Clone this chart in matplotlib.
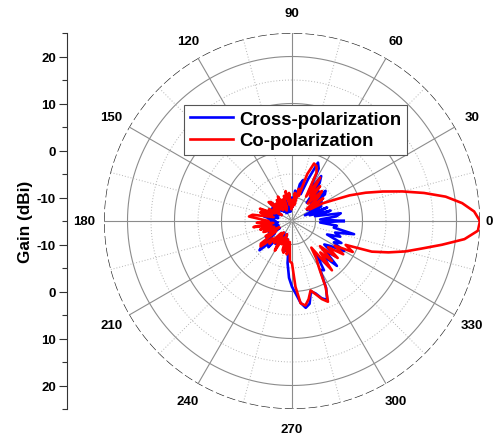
import numpy as np
import matplotlib
matplotlib.use("Agg")
import matplotlib.pyplot as plt

plt.rcParams['font.family'] = ['Liberation Sans', 'DejaVu Sans']
plt.rcParams['font.weight'] = 'bold'

# ---------------- data ----------------
angles_deg = list(range(0, 360, 3))

co_pol = [
    25.0, 23.8, 21.4, 18.1, 13.7, 9.3, 5.3, 1.8, -1.6, -5.3,      # 0-27
    -7.5, -10.5, -6.8, -11.0, -7.5, -6.0, -10.0, -5.5, -8.5, -4.0,  # 30-57
    -9.0, -3.5, -2.2, -1.9, -4.5, -9.5, -8.0, -11.5, -9.0, -12.0,   # 60-87
    -10.5, -12.5, -9.0, -11.5, -8.5, -10.0, -9.4, -12.0, -10.0, -12.5,  # 90-117
    -9.0, -11.0, -9.5, -12.0, -10.0, -11.5, -9.0, -8.6, -11.5, -10.3,   # 120-147
    -12.5, -9.5, -11.0, -7.7, -10.5, -8.0, -11.0, -6.5, -5.8, -8.5,     # 150-177
    -10.0, -7.5, -11.0, -6.7, -10.5, -8.0, -11.0, -8.5, -10.0, -12.0,   # 180-207
    -8.5, -11.0, -6.8, -6.4, -9.5, -8.2, -11.5, -9.0, -12.0, -9.5,      # 210-237
    -7.7, -11.0, -9.6, -12.0, -8.5, -8.0, -11.0, -7.8, -10.5, -6.4,     # 240-267
    -6.0, -1.0, 2.6, 3.2, 2.0, 0.3, 1.4, 2.8, 3.8, 0.8,                  # 270-297
    -3.5, -5.5, -8.0, -1.5, -6.0, -3.0, -7.0, -2.5, -5.5, -2.0,         # 300-327
    -4.5, -0.5, -2.5, 3.2, 6.6, 10.0, 13.2, 17.3, 21.9, 24.6,           # 330-357
]

cross_pol = [
    -4.0, -9.0, -5.5, -4.5, -10.0, -6.5, -11.0, -7.0, -12.0, -8.0,      # 0-27
    -10.5, -7.5, -11.0, -6.0, -5.4, -9.5, -6.5, -10.0, -5.0, -3.6,      # 30-57
    -8.0, -2.5, -1.4, -5.5, -9.0, -6.0, -7.0, -10.5, -8.5, -12.0,       # 60-87
    -10.0, -12.5, -10.5, -13.0, -11.0, -12.5, -10.0, -13.0, -11.5, -12.5,  # 90-117
    -10.5, -13.0, -11.0, -12.5, -10.5, -12.0, -9.5, -9.1, -11.5, -10.0,   # 120-147
    -12.5, -10.0, -12.0, -9.5, -11.5, -10.0, -12.0, -9.0, -11.0, -10.0,   # 150-177
    -11.5, -9.5, -12.0, -10.0, -11.5, -9.0, -12.0, -10.0, -11.0, -9.5,    # 180-207
    -12.0, -8.5, -10.5, -7.0, -5.7, -9.0, -7.5, -11.0, -9.0, -12.0,       # 210-237
    -9.5, -11.5, -10.0, -12.0, -10.0, -11.0, -8.5, -10.5, -6.0, -2.9,     # 240-267
    -1.0, 0.5, 2.5, 3.7, 3.0, 0.5, 1.2, 2.6, 3.4, 1.0,                     # 270-297
    -3.0, -2.5, -6.0, -2.5, -5.0, -1.5, -5.5, -3.0, -6.5, -5.2,           # 300-327
    -2.2, -5.0, -3.5, -7.0, -4.2, -5.5, -1.5, -6.0, -5.4, -9.0,           # 330-357
]

series_labels = ["Cross-polarization", "Co-polarization"]
angle_ticks = [0, 30, 60, 90, 120, 150, 180, 210, 240, 270, 300, 330]
r_min, r_max = -15, 25
gain_tick_values = [20, 10, 0, -10]

# ---------------- figure ----------------
W, H = 493, 435
fig = plt.figure(figsize=(W / 100, H / 100), dpi=100)
fig.patch.set_facecolor('white')

cx, cy, R = 292, 222, 188
ax = fig.add_axes([(cx - R) / W, 1 - (cy + R) / H, 2 * R / W, 2 * R / H],
                  projection='polar')
ax.set_ylim(r_min, r_max)
ax.set_xticks([])
ax.set_yticks([])
ax.grid(False)
ax.spines['polar'].set_visible(False)
ax.patch.set_alpha(0)

# grid rings
tt = np.linspace(0, 2 * np.pi, 721)
for rv in [-10, 0, 10, 20]:
    ax.plot(tt, np.full_like(tt, rv), color='#8c8c8c', lw=0.8, zorder=1)
for rv in [-5, 5, 15]:
    ax.plot(tt, np.full_like(tt, rv), color='#b4b4b4', lw=0.7, ls=(0, (1, 2)), zorder=1)
ax.plot(tt, np.full_like(tt, r_max), color='#222222', lw=0.9, ls=(0, (7, 2.5)), zorder=1)

# spokes
for a in range(0, 360, 30):
    ax.plot([np.deg2rad(a)] * 2, [r_min, r_max], color='#8c8c8c', lw=0.8, zorder=1)
for a in range(15, 360, 30):
    ax.plot([np.deg2rad(a)] * 2, [r_min, r_max], color='#b4b4b4', lw=0.7,
            ls=(0, (1, 2)), zorder=1)

# angle labels
for a in angle_ticks:
    rr = 26.9 if a == 0 else 29.3
    ax.text(np.deg2rad(a), rr, str(a), ha='center', va='center', fontsize=9.5,
            fontweight='bold', clip_on=False)

# data
th = np.deg2rad(np.array(angles_deg + [angles_deg[0]]))
cp = np.array(cross_pol + [cross_pol[0]])
co = np.array(co_pol + [co_pol[0]])
l1, = ax.plot(th, cp, color='#0000ff', lw=1.9, zorder=3, label=series_labels[0])
l2, = ax.plot(th, co, color='#ff0000', lw=1.9, zorder=4, label=series_labels[1])

leg = fig.legend(handles=[l1, l2], loc='upper left',
                 bbox_to_anchor=(184 / W, 1 - 106 / H),
                 bbox_transform=fig.transFigure,
                 prop={'weight': 'bold', 'size': 13.3}, frameon=True,
                 fancybox=False, handlelength=2.35, handletextpad=0.3,
                 borderpad=0.32, labelspacing=0.22, borderaxespad=0)
leg.get_frame().set_edgecolor('#555555')
leg.get_frame().set_linewidth(0.8)
leg.get_frame().set_facecolor('white')
leg.get_frame().set_alpha(1)

# left gain axis (mirrored)
lax = fig.add_axes([67 / W, 1 - (cy + R) / H, 0.001, 2 * R / H])
span = r_max - r_min
lax.set_ylim(-span, span)
lax.set_xlim(0, 1)
pos, labs = [], []
for v in gain_tick_values:
    pos.append(v - r_min)
    labs.append(str(v))
for v in gain_tick_values[::-1]:
    pos.append(-(v - r_min))
    labs.append(str(v))
lax.set_yticks(pos)
lax.set_yticklabels(labs, fontsize=9.5, fontweight='bold')
lax.set_yticks(np.arange(-span, span + 1, 10), minor=True)
lax.tick_params(axis='y', which='major', direction='out', length=6, width=0.8,
                color='#333333', pad=2)
lax.tick_params(axis='y', which='minor', direction='out', length=3.5, width=0.8,
                color='#333333')
lax.set_xticks([])
for s in ['top', 'right', 'bottom']:
    lax.spines[s].set_visible(False)
lax.spines['left'].set_color('#333333')
lax.spines['left'].set_linewidth(0.8)
lax.patch.set_alpha(0)
lax.set_ylabel('Gain (dBi)', fontsize=12.3, fontweight='bold', labelpad=3)

fig.savefig('out.png', dpi=100)
